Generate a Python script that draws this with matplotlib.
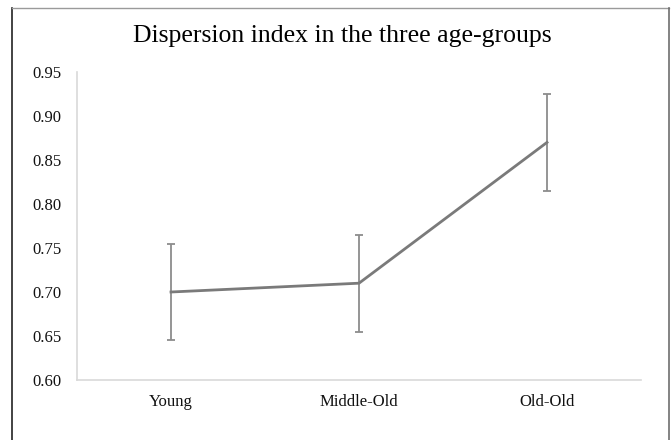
import matplotlib
matplotlib.use("Agg")
import matplotlib.pyplot as plt
from matplotlib.lines import Line2D

groups = ["Young", "Middle-Old", "Old-Old"]
means = [0.70, 0.71, 0.87]
errors = [0.055, 0.055, 0.055]
yticks = [0.60, 0.65, 0.70, 0.75, 0.80, 0.85, 0.90, 0.95]

plt.rcParams['font.family'] = ['Liberation Serif', 'DejaVu Serif']

fig = plt.figure(figsize=(6.71, 4.4), dpi=100)
ax = fig.add_axes([77/671, 1 - 380/440, 564/671, 308/440])

x = [i + 0.5 for i in range(len(groups))]
ax.errorbar(x, means, yerr=errors, fmt='none', ecolor='#8c8c8c',
            elinewidth=1.3, capsize=3, capthick=1.3, zorder=2)
ax.plot(x, means, color='#7a7a7a', linewidth=2.0, zorder=3)

ax.set_xlim(0, 3)
ax.set_ylim(0.60, 0.95)
ax.set_xticks(x)
ax.set_xticklabels(groups)
ax.set_yticks(yticks)
ax.set_yticklabels([f"{v:.2f}" for v in yticks])
ax.tick_params(axis='both', length=0, labelsize=12, colors='#111111')
ax.tick_params(axis='y', pad=11)
ax.tick_params(axis='x', pad=10)

for s in ['top', 'right']:
    ax.spines[s].set_visible(False)
for s in ['left', 'bottom']:
    ax.spines[s].set_color('#d9d9d9')
    ax.spines[s].set_linewidth(1.2)

# title centred on the bordered chart area
fig.text(342/671, 1 - 42/440, "Dispersion index in the three age-groups",
         ha='center', va='baseline', fontsize=18.5, color='#000000')

# border of the chart area
fig.add_artist(Line2D([11.5/671, 11.5/671], [0, 1 - 8/440], color='#222222', lw=1.2))
fig.add_artist(Line2D([11.5/671, 668.5/671], [1 - 8/440, 1 - 8/440], color='#9a9a9a', lw=1.0))
fig.add_artist(Line2D([668.5/671, 668.5/671], [0, 1 - 8/440], color='#6e6e6e', lw=1.2))

fig.savefig("out.png", dpi=100)
